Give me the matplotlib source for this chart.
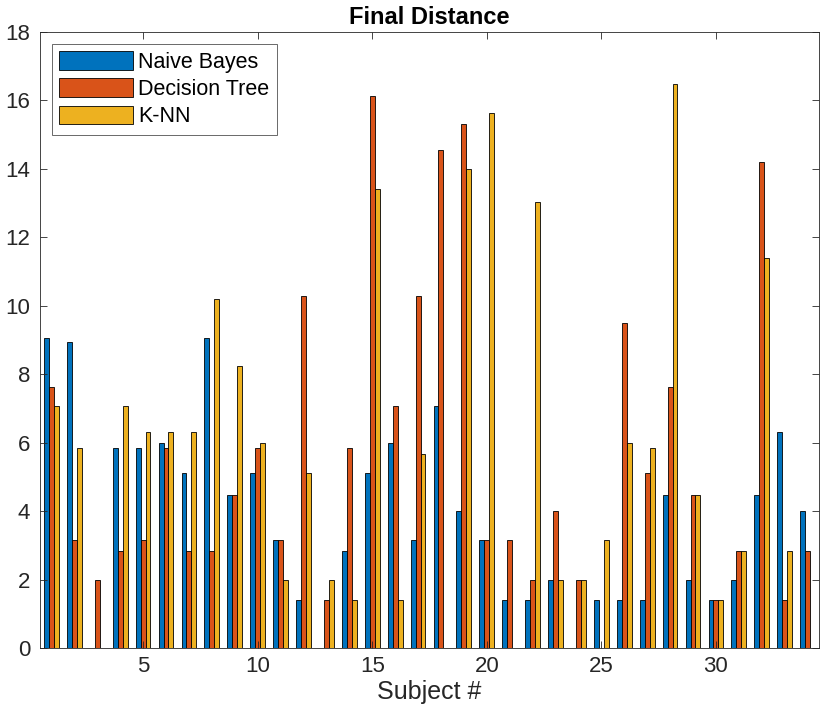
import numpy as np
import matplotlib
matplotlib.use('Agg')
import matplotlib.pyplot as plt

plt.rcParams['font.family'] = ['Liberation Sans', 'DejaVu Sans']

subjects = np.arange(1, 35)
naive_bayes = [9.05, 8.94, 0, 5.83, 5.83, 6.0, 5.10, 9.05, 4.47, 5.10,
               3.16, 1.41, 0, 2.83, 5.10, 6.0, 3.16, 7.07, 4.0, 3.16,
               1.41, 1.41, 2.0, 0, 1.41, 1.41, 1.41, 4.47, 2.0, 1.41,
               2.0, 4.47, 6.32, 4.0]
decision_tree = [7.62, 3.16, 2.0, 2.83, 3.16, 5.83, 2.83, 2.83, 4.47, 5.83,
                 3.16, 10.30, 1.41, 5.83, 16.12, 7.07, 10.30, 14.56, 15.30, 3.16,
                 3.16, 2.0, 4.0, 2.0, 0, 9.49, 5.10, 7.62, 4.47, 1.41,
                 2.83, 14.21, 1.41, 2.83]
knn = [7.07, 5.83, 0, 7.07, 6.32, 6.32, 6.32, 10.20, 8.25, 6.0,
       2.0, 5.10, 2.0, 1.41, 13.42, 1.41, 5.66, 0, 14.0, 15.62,
       0, 13.04, 2.0, 2.0, 3.16, 6.0, 5.83, 16.49, 4.47, 1.41,
       2.83, 11.40, 2.83, 0]
labels = ['Naive Bayes', 'Decision Tree', 'K-NN']
colors = ['#0072BD', '#D95319', '#EDB120']

size = 822, 724
dpi = 100.0
fig = plt.figure(figsize=(size[0]/dpi, size[1]/dpi), dpi=dpi)
ax = fig.add_axes([40/822, 1-648/724, 779/822, 616/724])

w = 0.215
for k, (vals, lab, c) in enumerate(zip([naive_bayes, decision_tree, knn], labels, colors)):
    ax.bar(subjects + (k-1)*w, vals, width=w, color=c, edgecolor='black',
           linewidth=0.6, label=lab)

ax.set_xlim(0.5, 34.5)
ax.set_ylim(0, 18)
ax.set_xticks([5, 10, 15, 20, 25, 30])
ax.set_yticks(np.arange(0, 19, 2))
ax.tick_params(direction='in', top=True, right=True, labelsize=16,
               colors='#262626', length=5, width=0.6)
ax.tick_params(axis='y', pad=7)
ax.tick_params(axis='x', pad=6)
for s in ax.spines.values():
    s.set_color('#262626')
    s.set_linewidth(0.6)
ax.set_title('Final Distance', fontsize=17, fontweight='bold', pad=6)
ax.set_xlabel('Subject #', fontsize=18, color='#262626', labelpad=2)
leg = ax.legend(loc='upper left', fontsize=15.5, fancybox=False, edgecolor='#262626',
                handlelength=3.4, handleheight=0.95, borderaxespad=0.55,
                labelspacing=0.25, handletextpad=0.25, borderpad=0.35)
leg.get_frame().set_linewidth(0.6)

fig.savefig('out.png', dpi=dpi)
